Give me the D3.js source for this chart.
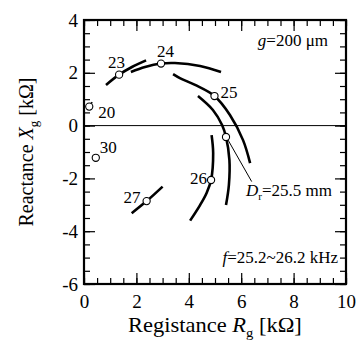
<!DOCTYPE html>
<html>
<head>
<meta charset="utf-8">
<script src="https://cdn.jsdelivr.net/npm/d3@7"></script>
</head>
<body style="margin:0; background:#fff">
<div id="chart"></div>
<script>
// curves of impedance vs frequency, one per rotor/gap setting  [R kΩ, X kΩ]
const curve23 = [[0.84, 1.54], [1.34, 1.93], [1.83, 2.22], [2.37, 2.47]];
const curve24 = [[1.79, 2.03], [2.33, 2.22], [2.94, 2.35], [3.47, 2.37], [4.43, 2.26], [5.23, 2.03]];
const curve25 = [[3.40, 1.95], [3.66, 1.80], [4.24, 1.54], [4.98, 1.12], [5.57, 0.40], [6.07, -0.55], [6.34, -1.42]];
const curveDr = [[4.35, 1.12], [4.92, 0.59], [5.27, 0.02], [5.42, -0.43], [5.55, -1.30], [5.53, -2.25], [5.42, -3.01]];
const curve26 = [[4.87, -0.36], [4.93, -1.04], [4.85, -2.06], [4.68, -2.55], [4.43, -3.01], [4.05, -3.60]];
const curve27 = [[1.82, -3.32], [2.39, -2.86], [3.00, -2.31]];
const curve20 = [[0.20, 0.72], [0.31, 0.89]];

// open circles with their labels
const markerNames = ["20", "23", "24", "25", "26", "27", "30", ""];
const markerR = [0.20, 1.34, 2.94, 4.98, 4.85, 2.39, 0.45, 5.42];
const markerX = [0.72, 1.93, 2.35, 1.12, -2.06, -2.86, -1.22, -0.43];

const xTicks = [0, 2, 4, 6, 8, 10];
const yTicks = [-6, -4, -2, 0, 2, 4];

const w = 360, h = 343;
const margin = { top: 20, right: 14, bottom: 59, left: 84 };
const serif = "Liberation Serif, Times New Roman, serif";

const x = d3.scaleLinear().domain([0, 10]).range([margin.left, w - margin.right]);
const y = d3.scaleLinear().domain([-6, 4]).range([h - margin.bottom, margin.top]);

const svg = d3.select("#chart").append("svg")
  .attr("width", w)
  .attr("height", h);

// minor ticks every 0.5
const minorX = d3.range(0, 10.01, 0.5);
const minorY = d3.range(-6, 4.01, 0.5);

svg.append("g")
  .attr("transform", `translate(0,${y(-6)})`)
  .call(d3.axisBottom(x).tickValues(minorX).tickSize(-6).tickFormat(""));
svg.append("g")
  .attr("transform", `translate(0,${y(4)})`)
  .call(d3.axisTop(x).tickValues(minorX).tickSize(-6).tickFormat(""));
svg.append("g")
  .attr("transform", `translate(${x(0)},0)`)
  .call(d3.axisLeft(y).tickValues(minorY).tickSize(-6).tickFormat(""));
svg.append("g")
  .attr("transform", `translate(${x(10)},0)`)
  .call(d3.axisRight(y).tickValues(minorY).tickSize(-6).tickFormat(""));

// major ticks with labels
svg.append("g")
  .attr("transform", `translate(0,${y(-6)})`)
  .call(d3.axisBottom(x).tickValues(xTicks).tickSizeInner(-11).tickSizeOuter(0).tickPadding(11).tickFormat(d => String(d)));
svg.append("g")
  .attr("transform", `translate(0,${y(4)})`)
  .call(d3.axisTop(x).tickValues(xTicks).tickSizeInner(-11).tickSizeOuter(0).tickFormat(""));
svg.append("g")
  .attr("transform", `translate(${x(0)},0)`)
  .call(d3.axisLeft(y).tickValues(yTicks).tickSizeInner(-11).tickSizeOuter(0).tickPadding(6).tickFormat(d => String(d)));
svg.append("g")
  .attr("transform", `translate(${x(10)},0)`)
  .call(d3.axisRight(y).tickValues(yTicks).tickSizeInner(-11).tickSizeOuter(0).tickFormat(""));

svg.selectAll(".domain").remove();
svg.selectAll(".tick line").attr("stroke", "#000").attr("stroke-width", 1.2);
svg.selectAll(".tick text")
  .style("font-family", serif)
  .style("font-size", "19px")
  .attr("fill", "#000");

// frame
svg.append("rect")
  .attr("x", x(0))
  .attr("y", y(4))
  .attr("width", x(10) - x(0))
  .attr("height", y(-6) - y(4))
  .attr("fill", "none")
  .attr("stroke", "#000")
  .attr("stroke-width", 2.2);

// zero line
svg.append("line")
  .attr("x1", x(0)).attr("x2", x(10))
  .attr("y1", y(0)).attr("y2", y(0))
  .attr("stroke", "#000")
  .attr("stroke-width", 1);

const line = d3.line()
  .x(d => x(d[0]))
  .y(d => y(d[1]))
  .curve(d3.curveCatmullRom);

[curve23, curve24, curve25, curveDr, curve26, curve27].forEach(c => {
  svg.append("path")
    .attr("d", line(c))
    .attr("fill", "none")
    .attr("stroke", "#000")
    .attr("stroke-width", 2.6);
});
svg.append("path")
  .attr("d", line(curve20))
  .attr("fill", "none")
  .attr("stroke", "#000")
  .attr("stroke-width", 1.6);

// leader from the Dr marker to its label
svg.append("line")
  .attr("x1", x(5.42) + 2).attr("y1", y(-0.43) + 3)
  .attr("x2", x(6.4)).attr("y2", y(-2.12))
  .attr("stroke", "#000")
  .attr("stroke-width", 1);

const markers = markerNames.map((n, i) => ({ name: n, r: markerR[i], x: markerX[i] }));

svg.selectAll("circle.mk")
  .data(markers)
  .enter()
  .append("circle")
  .attr("class", "mk")
  .attr("cx", d => x(d.r))
  .attr("cy", d => y(d.x))
  .attr("r", 3.6)
  .attr("fill", "#fff")
  .attr("stroke", "#000")
  .attr("stroke-width", 1.1);

// label offsets relative to each marker: dx, dy, anchor
const labelPos = {
  "20": [9, 11.5, "start"],
  "23": [-11, -7, "start"],
  "24": [-4, -7, "start"],
  "25": [6, 1.5, "start"],
  "26": [-4, 4.5, "end"],
  "27": [-6, 2, "end"],
  "30": [4, -4.5, "start"]
};

svg.selectAll("text.mk")
  .data(markers.filter(d => d.name))
  .enter()
  .append("text")
  .attr("class", "mk")
  .attr("x", d => x(d.r) + labelPos[d.name][0])
  .attr("y", d => y(d.x) + labelPos[d.name][1])
  .attr("text-anchor", d => labelPos[d.name][2])
  .style("font-family", serif)
  .style("font-size", "17px")
  .text(d => d.name);

// annotations
function note(px, py) {
  return svg.append("text")
    .attr("x", px).attr("y", py)
    .attr("text-anchor", "end")
    .style("font-family", serif)
    .style("font-size", "17px");
}
const g1 = note(328, 46);
g1.append("tspan").style("font-style", "italic").text("g");
g1.append("tspan").text("=200 μm");

const g2 = note(332, 196);
g2.append("tspan").style("font-style", "italic").text("D");
g2.append("tspan").style("font-size", "11px").attr("dy", 4).text("r");
g2.append("tspan").attr("dy", -4).text("=25.5 mm");

const g3 = note(338, 263);
g3.append("tspan").style("font-style", "italic").text("f");
g3.append("tspan").text("=25.2~26.2 kHz");

// axis titles (x title is set a little wider, as in the original)
const xt = svg.append("text")
  .attr("x", 0)
  .attr("y", 0)
  .style("font-family", serif)
  .style("font-size", "20px");
xt.append("tspan").text("Registance  ");
xt.append("tspan").style("font-style", "italic").text("R");
xt.append("tspan").style("font-size", "13px").attr("dy", 5).text("g");
xt.append("tspan").attr("dy", -5).text(" [kΩ]");
const xtLen = xt.node().getComputedTextLength();
xt.attr("transform", `translate(128,332) scale(${174 / xtLen},1)`);

const yt = svg.append("text")
  .attr("transform", `translate(33,${(y(4) + y(-6)) / 2}) rotate(-90)`)
  .attr("text-anchor", "middle")
  .style("font-family", serif)
  .style("font-size", "20px");
yt.append("tspan").text("Reactance  ");
yt.append("tspan").style("font-style", "italic").text("X");
yt.append("tspan").style("font-size", "13px").attr("dy", 5).text("g");
yt.append("tspan").attr("dy", -5).text(" [kΩ]");
</script>
</body>
</html>
